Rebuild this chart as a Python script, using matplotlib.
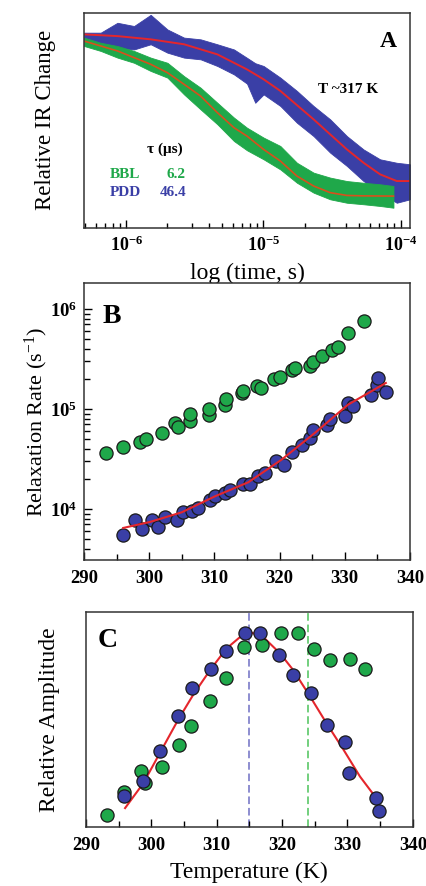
import matplotlib.pyplot as plt
import matplotlib.ticker as mticker
import numpy as np

plt.rcParams['font.family'] = ['Liberation Serif', 'DejaVu Serif']
plt.rcParams['mathtext.fontset'] = 'custom'
plt.rcParams['mathtext.rm'] = 'Liberation Serif'
plt.rcParams['mathtext.bf'] = 'Liberation Serif:bold'
plt.rcParams['mathtext.it'] = 'Liberation Serif:italic'

GREEN = '#1fa84a'
BLUE = '#3a3fa6'
RED = '#e4262c'

# ---- Panel A: IR relaxation traces (log10 time, relative signal envelopes) ----
bbl_logt = [-6.306, -6.185, -6.063, -5.942, -5.821, -5.699, -5.578, -5.457, -5.335,
            -5.214, -5.119, -4.998, -4.876, -4.755, -4.634, -4.513, -4.391, -4.270,
            -4.149, -4.052]
bbl_hi = [0.884, 0.860, 0.845, 0.822, 0.791, 0.767, 0.705, 0.651, 0.581, 0.512,
          0.465, 0.419, 0.380, 0.302, 0.256, 0.233, 0.217, 0.209, 0.202, 0.194]
bbl_lo = [0.845, 0.822, 0.791, 0.767, 0.729, 0.698, 0.620, 0.550, 0.481, 0.403,
          0.360, 0.318, 0.271, 0.209, 0.163, 0.132, 0.116, 0.109, 0.101, 0.093]

pdd_logt = [-6.306, -6.185, -6.063, -5.942, -5.821, -5.699, -5.578, -5.457, -5.335,
            -5.214, -5.119, -5.059, -4.998, -4.876, -4.755, -4.634, -4.513, -4.391,
            -4.270, -4.149, -4.028, -3.932]
pdd_hi = [0.907, 0.907, 0.953, 0.938, 0.990, 0.922, 0.884, 0.876, 0.853, 0.829,
          0.790, 0.765, 0.752, 0.698, 0.636, 0.566, 0.504, 0.426, 0.364, 0.318,
          0.302, 0.295]
pdd_lo = [0.868, 0.853, 0.837, 0.829, 0.853, 0.814, 0.791, 0.783, 0.752, 0.713,
          0.670, 0.581, 0.620, 0.566, 0.488, 0.426, 0.349, 0.287, 0.217, 0.163,
          0.116, 0.132]

bbl_fit_logt = [-6.306, -6.063, -5.821, -5.699, -5.578, -5.457, -5.335, -5.214,
                -5.119, -4.998, -4.876, -4.755, -4.634, -4.513, -4.391, -4.270, -4.052]
bbl_fit = [0.868, 0.822, 0.760, 0.721, 0.667, 0.612, 0.535, 0.465, 0.426, 0.364,
           0.310, 0.240, 0.194, 0.163, 0.150, 0.148, 0.147]
pdd_fit_logt = [-6.306, -6.063, -5.821, -5.578, -5.335, -5.119, -4.998, -4.876,
                -4.755, -4.634, -4.513, -4.391, -4.270, -4.149, -4.028, -3.932]
pdd_fit = [0.899, 0.891, 0.876, 0.853, 0.806, 0.736, 0.690, 0.636, 0.570, 0.504,
           0.434, 0.364, 0.302, 0.248, 0.217, 0.217]

# ---- Panel B: relaxation rates vs temperature ----
bbl_T = [293.4, 295.9, 298.6, 299.5, 301.9, 304.0, 304.4, 306.3, 306.3, 309.2,
         309.2, 311.6, 311.7, 314.3, 314.4, 316.6, 317.2, 319.2, 320.0, 321.9,
         322.4, 324.6, 325.2, 326.5, 328.0, 328.9, 330.5, 333.0]
bbl_logk = [4.56, 4.62, 4.667, 4.70, 4.76, 4.86, 4.817, 4.883, 4.953, 4.943,
            5.003, 5.043, 5.103, 5.16, 5.183, 5.233, 5.21, 5.30, 5.32, 5.393,
            5.413, 5.427, 5.467, 5.533, 5.593, 5.617, 5.76, 5.883]
pdd_T = [296.0, 297.8, 298.9, 300.4, 301.3, 302.4, 304.2, 305.1, 306.5, 307.5,
         309.3, 310.1, 311.6, 312.4, 314.4, 315.4, 316.7, 317.8, 319.5, 320.6,
         321.9, 323.4, 324.7, 325.2, 327.3, 327.7, 330.0, 330.5, 331.2, 334.1,
         334.9, 335.1, 336.3]
pdd_logk = [3.737, 3.887, 3.80, 3.887, 3.817, 3.917, 3.887, 3.967, 3.983, 4.01,
            4.087, 4.133, 4.16, 4.187, 4.25, 4.25, 4.327, 4.36, 4.477, 4.437,
            4.57, 4.643, 4.71, 4.787, 4.843, 4.903, 4.927, 5.06, 5.033, 5.143,
            5.243, 5.31, 5.167]
rate_fit_T = [296.0, 300.1, 305.0, 310.1, 315.2, 320.3, 325.4, 330.5, 336.3]
rate_fit_logk = [3.81, 3.87, 3.967, 4.127, 4.267, 4.493, 4.76, 5.043, 5.26]

# ---- Panel C: relative amplitudes vs temperature ----
amp_pdd_T = [295.8, 298.8, 301.3, 304.1, 306.2, 309.2, 311.5, 314.3, 316.6, 319.6,
             321.6, 324.4, 326.9, 329.6, 330.3, 334.4, 334.8]
amp_pdd = [0.142, 0.216, 0.354, 0.516, 0.645, 0.733, 0.819, 0.903, 0.903, 0.802,
           0.706, 0.624, 0.474, 0.394, 0.253, 0.134, 0.073]
amp_bbl_T = [293.3, 295.8, 298.5, 299.1, 301.7, 304.2, 306.1, 309.0, 311.4, 314.2,
             316.9, 319.9, 322.4, 324.9, 327.4, 330.4, 332.7]
amp_bbl = [0.057, 0.161, 0.261, 0.204, 0.281, 0.382, 0.470, 0.587, 0.691, 0.835,
           0.845, 0.900, 0.903, 0.830, 0.776, 0.779, 0.737]
amp_fit_T = [296.0, 298.8, 301.3, 304.1, 306.4, 309.0, 311.5, 313.6, 315.4, 317.1,
             319.7, 321.7, 324.3, 326.8, 329.4, 331.9, 334.4]
amp_fit = [0.088, 0.204, 0.343, 0.498, 0.614, 0.730, 0.830, 0.884, 0.903, 0.884,
           0.807, 0.730, 0.606, 0.482, 0.359, 0.235, 0.134]
tm_pdd = 315
tm_bbl = 324

fig = plt.figure(figsize=(4.27, 8.86), dpi=100)
axA = fig.add_axes([0.197, 0.743, 0.763, 0.2427])
axB = fig.add_axes([0.197, 0.368, 0.763, 0.3126])
axC = fig.add_axes([0.201, 0.0666, 0.766, 0.2427])

for ax in (axA, axB, axC):
    for sp in ax.spines.values():
        sp.set_color('#333333')
        sp.set_linewidth(1.1)


def bold_pow10(v, pos):
    return r'$\mathbf{10^{%d}}$' % round(np.log10(v))


# Panel A
axA.fill_between(10 ** np.array(pdd_logt), pdd_lo, pdd_hi, color=BLUE, lw=0.6)
axA.fill_between(10 ** np.array(bbl_logt), bbl_lo, bbl_hi, color=GREEN, lw=0.6)
axA.plot(10 ** np.array(pdd_fit_logt), pdd_fit, color=RED, lw=1.4)
axA.plot(10 ** np.array(bbl_fit_logt), bbl_fit, color='#d8501c', lw=1.2)
axA.set_xscale('log')
axA.set_xlim(10 ** -6.306, 10 ** -3.932)
axA.set_ylim(0, 1)
axA.set_yticks([])
axA.xaxis.set_major_locator(mticker.LogLocator(base=10, numticks=10))
axA.xaxis.set_minor_locator(mticker.LogLocator(base=10, subs=np.arange(2, 10), numticks=10))
axA.xaxis.set_major_formatter(mticker.FuncFormatter(bold_pow10))
axA.xaxis.set_minor_formatter(mticker.NullFormatter())
axA.tick_params(axis='x', which='major', direction='in', length=6, width=1, labelsize=13, pad=6)
axA.tick_params(axis='x', which='minor', direction='in', length=3.5, width=1)
axA.set_xlabel('log (time, s)', fontsize=17)
axA.xaxis.set_label_coords(0.5, -0.165)
axA.set_ylabel('Relative IR Change', fontsize=16.5)
axA.yaxis.set_label_coords(-0.085, 0.5)
axA.text(0.934, 0.866, 'A', transform=axA.transAxes, fontsize=17, fontweight='bold',
         ha='center', va='center')
axA.text(0.811, 0.641, 'T ~317 K', transform=axA.transAxes, fontsize=11,
         fontweight='bold', ha='center', va='center')
axA.text(0.248, 0.363, 'τ (μs)', transform=axA.transAxes, fontsize=11,
         fontweight='bold', ha='center', va='center')
axA.text(0.080, 0.247, 'BBL', transform=axA.transAxes, fontsize=11,
         fontweight='bold', color=GREEN, ha='left', va='center')
axA.text(0.310, 0.247, '6.2', transform=axA.transAxes, fontsize=11,
         fontweight='bold', color=GREEN, ha='right', va='center')
axA.text(0.080, 0.165, 'PDD', transform=axA.transAxes, fontsize=11,
         fontweight='bold', color=BLUE, ha='left', va='center')
axA.text(0.315, 0.165, '46.4', transform=axA.transAxes, fontsize=11,
         fontweight='bold', color=BLUE, ha='right', va='center')

# Panel B
axB.scatter(bbl_T, 10 ** np.array(bbl_logk), s=90, facecolor=GREEN,
            edgecolor='#1a1a1a', lw=0.9, zorder=3)
axB.scatter(pdd_T, 10 ** np.array(pdd_logk), s=90, facecolor=BLUE,
            edgecolor='#1a1a1a', lw=0.9, zorder=3)
axB.plot(rate_fit_T, 10 ** np.array(rate_fit_logk), color=RED, lw=1.5, zorder=4)
axB.set_yscale('log')
axB.set_xlim(290, 340)
axB.set_ylim(10 ** 3.49, 10 ** 6.26)
axB.xaxis.set_major_locator(mticker.MultipleLocator(10))
axB.xaxis.set_minor_locator(mticker.MultipleLocator(5))
axB.yaxis.set_major_formatter(mticker.FuncFormatter(bold_pow10))
axB.yaxis.set_minor_formatter(mticker.NullFormatter())
axB.tick_params(axis='both', which='major', direction='in', length=6, width=1,
                labelsize=13.5)
axB.tick_params(axis='y', which='major', pad=5)
axB.tick_params(axis='both', which='minor', direction='in', length=4, width=1)
axB.tick_params(axis='x', which='major', pad=7)
for lab in axB.get_xticklabels():
    lab.set_fontweight('bold')
axB.set_ylabel('Relaxation Rate (s$^{-1}$)', fontsize=16)
axB.yaxis.set_label_coords(-0.105, 0.5)
axB.text(0.085, 0.878, 'B', transform=axB.transAxes, fontsize=20, fontweight='bold',
         ha='center', va='center')

# Panel C
axC.axvline(tm_pdd, color='#6f6fc4', lw=1.1, ls=(0, (5, 2.5)), zorder=1)
axC.axvline(tm_bbl, color='#4cc25a', lw=1.1, ls=(0, (5, 2.5)), zorder=1)
axC.plot(amp_fit_T, amp_fit, color=RED, lw=1.5, zorder=2)
axC.scatter(amp_bbl_T, amp_bbl, s=90, facecolor=GREEN, edgecolor='#1a1a1a',
            lw=0.9, zorder=3)
axC.scatter(amp_pdd_T, amp_pdd, s=90, facecolor=BLUE, edgecolor='#1a1a1a',
            lw=0.9, zorder=4)
axC.set_xlim(290, 340)
axC.set_ylim(0, 1)
axC.set_yticks([])
axC.xaxis.set_major_locator(mticker.MultipleLocator(10))
axC.xaxis.set_minor_locator(mticker.MultipleLocator(5))
axC.tick_params(axis='x', which='major', direction='in', length=6, width=1,
                labelsize=13.5, pad=7)
axC.tick_params(axis='x', which='minor', direction='in', length=4, width=1)
for lab in axC.get_xticklabels():
    lab.set_fontweight('bold')
axC.set_xlabel('Temperature (K)', fontsize=17)
axC.xaxis.set_label_coords(0.5, -0.16)
axC.set_ylabel('Relative Amplitude', fontsize=17)
axC.yaxis.set_label_coords(-0.08, 0.5)
axC.text(0.068, 0.869, 'C', transform=axC.transAxes, fontsize=20, fontweight='bold',
         ha='center', va='center')

fig.savefig('out.png', dpi=100)
